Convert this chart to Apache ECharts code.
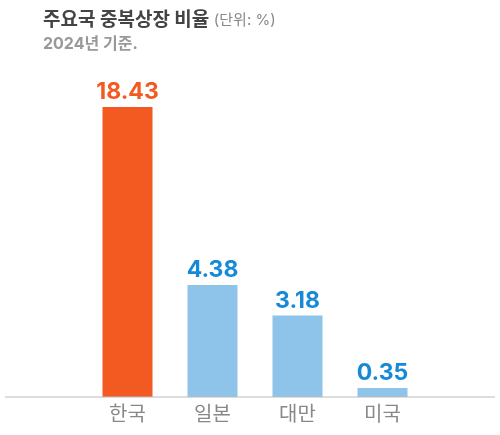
<!DOCTYPE html>
<html><head><meta charset="utf-8">
<script src="https://cdn.jsdelivr.net/npm/echarts@6/dist/echarts.min.js"></script>
<style>html,body{margin:0;padding:0;background:#fff}#c{width:500px;height:435px}</style>
</head><body><div id="c"></div>
<script>
const categories = ['한국','일본','대만','미국'];
const values = [18.43, 4.38, 3.18, 0.35];
const highlight = [true, false, false, false];
const axisCap = 11.33; // Korea's bar is shown truncated at chart top

const chart = echarts.init(document.getElementById('c'));
const font = 'Inter, "Noto Sans CJK KR", sans-serif';
chart.setOption({
  animation: false,
  title: {
    text: '주요국 중복상장 비율 {u|(단위: %)}',
    subtext: '2024년 기준.',
    left: 38, top: 6, itemGap: 6,
    textStyle: {fontFamily: font, fontSize: 19, fontWeight: 'bold', color: '#444',
      rich: {u: {fontFamily: font, fontSize: 15, fontWeight: 'normal', color: '#888'}}},
    subtextStyle: {fontFamily: font, fontSize: 16, fontWeight: 'bold', color: '#999'}
  },
  grid: {left: 85, right: 75, top: 107, bottom: 38},
  xAxis: {
    type: 'category', data: categories,
    axisLine: {show: false}, axisTick: {show: false},
    axisLabel: {fontFamily: font, fontSize: 20, color: '#888', margin: 8}
  },
  yAxis: {type: 'value', min: 0, max: axisCap, show: false},
  graphic: [{type: 'line', shape: {x1: 5, y1: 397, x2: 495, y2: 397}, style: {stroke: '#bbb', lineWidth: 1}, z: 10}],
  series: [{
    type: 'bar', barWidth: 50,
    data: values.map((v, i) => ({
      value: Math.min(v, axisCap), real: v,
      itemStyle: {color: highlight[i] ? '#f25a21' : '#8ec3ea'},
      label: {color: highlight[i] ? '#f25a21' : '#168ad6'}
    })),
    label: {show: true, position: 'top', distance: 3, fontFamily: font, fontSize: 23, fontWeight: 'bold',
      formatter: p => p.data.real.toFixed(2)}
  }]
});
</script></body></html>
